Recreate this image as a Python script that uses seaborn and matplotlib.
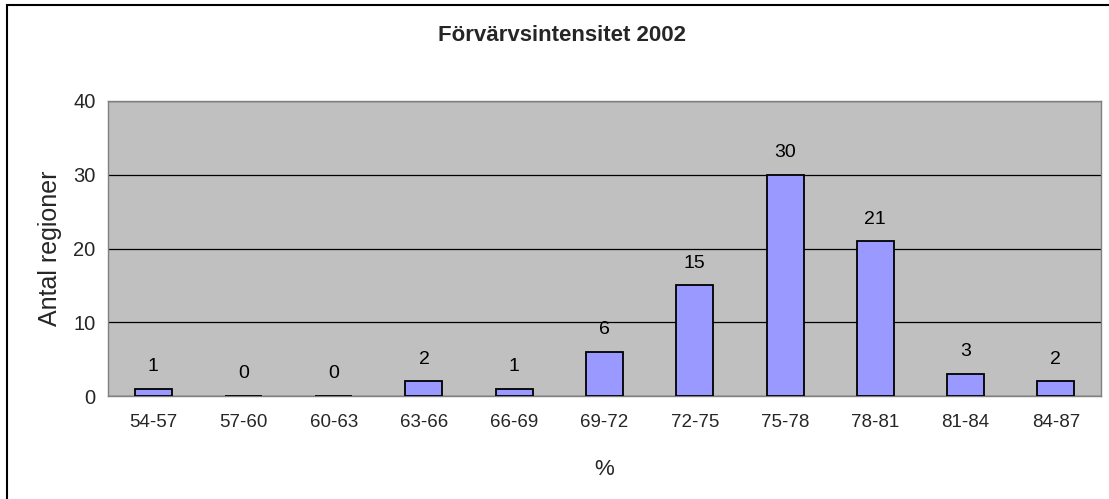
import numpy as np
import pandas as pd
import seaborn as sns
import matplotlib.pyplot as plt
from matplotlib.patches import Rectangle

# data
categories = ["54-57", "57-60", "60-63", "63-66", "66-69", "69-72",
              "72-75", "75-78", "78-81", "81-84", "84-87"]
antal = [1, 0, 0, 2, 1, 6, 15, 30, 21, 3, 2]

df = pd.DataFrame({"intervall": categories, "antal": antal})

sns.set_style("white")
plt.rcParams['font.family'] = ['Liberation Sans', 'DejaVu Sans']

fig = plt.figure(figsize=(11.09, 4.99), dpi=100)
ax = fig.add_axes([0.0974, 0.2064, 0.8954, 0.5912])
ax.set_facecolor("#C0C0C0")

sns.barplot(data=df, x="intervall", y="antal", color="#9999FF",
            saturation=1, width=0.41, edgecolor="black", linewidth=1.3, ax=ax, zorder=3)

ax.set_ylim(0, 40)
ax.set_xlim(-0.5, len(categories) - 0.5)
ax.set_yticks([0, 10, 20, 30, 40])
ax.yaxis.grid(True, color="black", linewidth=0.9, zorder=1)
ax.set_axisbelow(True)

# ticks between categories like the original
ax.set_xticks(np.arange(-0.5, len(categories), 1.0), minor=True)
ax.tick_params(axis="x", which="major", length=0, pad=13, labelsize=13.5)
ax.tick_params(axis="x", which="minor", length=5, color="#808080", width=1)
ax.tick_params(axis="y", which="major", length=5, color="#808080", width=1, labelsize=14.5, pad=4)

for s in ax.spines.values():
    s.set_color("#808080")
    s.set_linewidth(1)

for i, v in enumerate(antal):
    ax.text(i, v + 3, str(v), ha="center", va="center", fontsize=14, color="black")

ax.set_xlabel("%", fontsize=16, labelpad=20)
ax.set_ylabel("Antal regioner", fontsize=18, labelpad=8)
fig.text(0.507, 0.928, "Förvärvsintensitet 2002", ha="center", va="center",
         fontsize=16, fontweight="bold")

# outer chart border (right and bottom fall outside the image)
fig.patches.append(Rectangle((0.0063, -0.1), 1.2, 1.09, transform=fig.transFigure,
                             fill=False, edgecolor="black", linewidth=1.5))

fig.savefig("out.png", dpi=100)
